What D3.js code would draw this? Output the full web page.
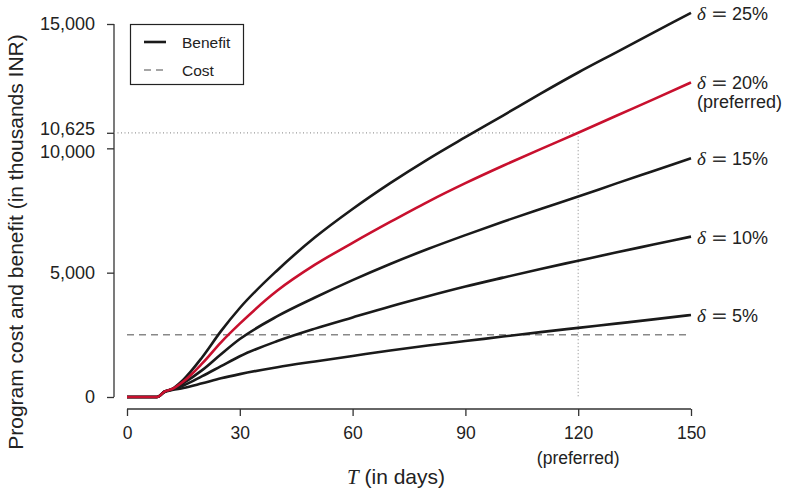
<!DOCTYPE html>
<html>
<head>
<meta charset="utf-8">
<script src="https://cdn.jsdelivr.net/npm/d3@7"></script>
<style>
  html, body { margin: 0; padding: 0; background: #fff; }
  svg { display: block; }
  text { font-family: "Liberation Sans", Arial, sans-serif; fill: #222; }
</style>
</head>
<body>
<svg id="chart" width="785" height="494"></svg>
<script>
// ---- data (thousands INR) ----
const days = [0, 4, 8, 10, 12, 15, 20, 25, 30, 40, 50, 60, 70, 80, 90, 100, 110, 120, 130, 140, 150];
const benefit25 = [0, 0, 0, 220, 330, 700, 1600, 2650, 3580, 5100, 6420, 7560, 8600, 9560, 10450, 11320, 12200, 13050, 13850, 14650, 15450];
const benefit20 = [0, 0, 0, 220, 320, 620, 1350, 2200, 2950, 4280, 5320, 6200, 7040, 7850, 8600, 9300, 9970, 10625, 11300, 11970, 12650];
const benefit15 = [0, 0, 0, 220, 310, 560, 1080, 1720, 2330, 3250, 4000, 4700, 5350, 5950, 6510, 7050, 7560, 8060, 8580, 9090, 9600];
const benefit10 = [0, 0, 0, 220, 300, 460, 840, 1240, 1640, 2250, 2750, 3200, 3640, 4050, 4440, 4800, 5150, 5480, 5810, 6130, 6450];
const benefit5  = [0, 0, 0, 200, 280, 360, 550, 750, 920, 1200, 1430, 1650, 1870, 2070, 2250, 2430, 2610, 2780, 2950, 3120, 3300];
const costValue = 2500;
const seriesNames = ["25%", "20%", "15%", "10%", "5%"];
const seriesValues = [benefit25, benefit20, benefit15, benefit10, benefit5];
const preferredIndex = 1;
const preferredDay = 120;
const preferredValue = 10625;
const xTicks = [0, 30, 60, 90, 120, 150];
const yTicks = [0, 5000, 10000, 10625, 15000];

// ---- drawing ----
const svg = d3.select("#chart");
const x = d3.scaleLinear().domain([0, 150]).range([127, 691]);
const y = d3.scaleLinear().domain([0, 15000]).range([397, 24]);
const fmt = d3.format(",");
const axisColor = "#333";
const red = "#c8102e";
const serif = "'Liberation Serif', 'DejaVu Serif', serif";

// Y axis
const yAxis = svg.append("g").attr("transform", "translate(114,0)")
  .call(d3.axisLeft(y).tickValues(yTicks).tickFormat(fmt).tickSize(7).tickSizeOuter(0).tickPadding(12));
yAxis.select(".domain").remove();
yAxis.append("line").attr("x1", 0).attr("x2", 0).attr("y1", y(15000)).attr("y2", y(0))
  .attr("stroke", axisColor).attr("stroke-width", 1.3);
yAxis.selectAll(".tick line").attr("stroke", axisColor).attr("stroke-width", 1.3);
yAxis.selectAll(".tick text").style("font-size", "18px").style("font-family", "'Liberation Sans', Arial, sans-serif").attr("fill", "#222");
yAxis.selectAll(".tick text").attr("dy", d => d === 10625 ? "0.1em" : (d === 10000 ? "0.5em" : "0.32em"));

// X axis
const xAxis = svg.append("g").attr("transform", "translate(0,409)")
  .call(d3.axisBottom(x).tickValues(xTicks).tickSize(7).tickSizeOuter(0).tickPadding(11));
xAxis.select(".domain").remove();
xAxis.append("line").attr("x1", x(0)).attr("x2", x(150)).attr("y1", 0).attr("y2", 0)
  .attr("stroke", axisColor).attr("stroke-width", 1.3);
xAxis.selectAll(".tick line").attr("stroke", axisColor).attr("stroke-width", 1.3);
xAxis.selectAll(".tick text").style("font-size", "17.5px").style("font-family", "'Liberation Sans', Arial, sans-serif").attr("fill", "#222");

svg.append("text").attr("x", x(preferredDay)).attr("y", 464).attr("text-anchor", "middle")
  .style("font-size", "17.5px").text("(preferred)");

// Axis titles
svg.append("text").attr("transform", "translate(23,242) rotate(-90)").attr("text-anchor", "middle")
  .style("font-size", "21px").text("Program cost and benefit (in thousands INR)");
const xt = svg.append("text").attr("x", 396).attr("y", 484).attr("text-anchor", "middle").style("font-size", "21px");
xt.append("tspan").style("font-family", serif).style("font-style", "italic").text("T");
xt.append("tspan").text(" (in days)");

// Preferred guide lines
svg.append("line").attr("x1", 114).attr("x2", x(preferredDay)).attr("y1", y(preferredValue)).attr("y2", y(preferredValue))
  .attr("stroke", "#999").attr("stroke-width", 1.2).attr("stroke-dasharray", "1,2.5");
svg.append("line").attr("x1", x(preferredDay)).attr("x2", x(preferredDay)).attr("y1", y(preferredValue)).attr("y2", y(0))
  .attr("stroke", "#999").attr("stroke-width", 1.2).attr("stroke-dasharray", "1,2.5");

// Cost line
svg.append("line").attr("x1", x(0)).attr("x2", x(150)).attr("y1", y(costValue)).attr("y2", y(costValue))
  .attr("stroke", "#888").attr("stroke-width", 1.5).attr("stroke-dasharray", "7,5");

// Benefit curves
const line = d3.line().x((d, i) => x(days[i])).y(d => y(d)).curve(d3.curveMonotoneX);
seriesValues.forEach((vals, k) => {
  if (k === preferredIndex) return;
  svg.append("path").attr("d", line(vals)).attr("fill", "none")
    .attr("stroke", "#1a1a1a").attr("stroke-width", 2.6).attr("stroke-linejoin", "round");
});
svg.append("path").attr("d", line(seriesValues[preferredIndex])).attr("fill", "none")
  .attr("stroke", red).attr("stroke-width", 2.6).attr("stroke-linejoin", "round");

// Right labels
seriesValues.forEach((vals, k) => {
  const last = vals[vals.length - 1];
  const by = y(last) + 7;
  const g = svg.append("g");
  g.append("text").attr("x", 697).attr("y", by).style("font-family", serif).style("font-style", "italic")
    .style("font-size", "19px").text("δ");
  g.append("text").attr("x", 711).attr("y", by).style("font-family", "'DejaVu Sans', sans-serif")
    .style("font-size", "20px").style("fill", "#333").text("=");
  g.append("text").attr("x", 732).attr("y", by).style("font-size", "18px").text(seriesNames[k]);
  if (k === preferredIndex) {
    svg.append("text").attr("x", 697).attr("y", y(last) + 26).style("font-size", "18px").text("(preferred)");
  }
});

// Legend
const lg = svg.append("g");
lg.append("rect").attr("x", 130.5).attr("y", 24.5).attr("width", 113).attr("height", 60)
  .attr("fill", "#fff").attr("stroke", "#222").attr("stroke-width", 1.2);
lg.append("line").attr("x1", 144).attr("x2", 166).attr("y1", 42).attr("y2", 42).attr("stroke", "#1a1a1a").attr("stroke-width", 2.6);
lg.append("line").attr("x1", 144).attr("x2", 166).attr("y1", 70).attr("y2", 70).attr("stroke", "#888").attr("stroke-width", 1.5).attr("stroke-dasharray", "7,5");
lg.append("text").attr("x", 182).attr("y", 47.5).style("font-size", "15.5px").text("Benefit");
lg.append("text").attr("x", 182).attr("y", 75.5).style("font-size", "15.5px").text("Cost");
</script>
</body>
</html>
